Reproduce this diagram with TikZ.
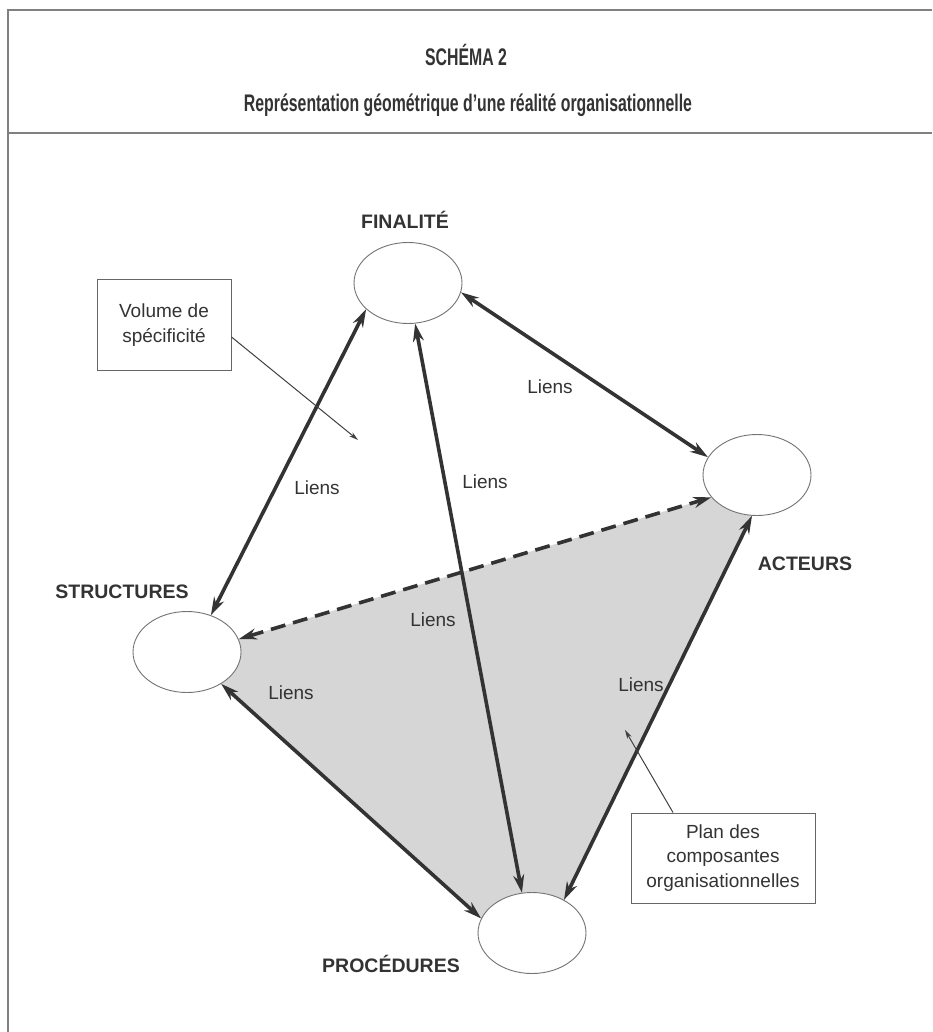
\documentclass[tikz,border=0pt]{standalone}
\usepackage{fontspec}
\setmainfont{Liberation Sans}
\newfontfamily\condfont[FakeStretch=0.66]{Liberation Sans}
\usepackage{tikz}
\usetikzlibrary{shapes.geometric,arrows.meta,backgrounds}

\begin{document}
\begin{tikzpicture}[x=1pt,y=-1pt]
\tikzstyle{every node}+=[inner sep=0pt, text=black!80, font=\fontsize{19}{24.5}\selectfont]
\tikzstyle{pole}=[ellipse, draw=black!55, line width=0.9pt, fill=white, minimum width=108pt, minimum height=81pt]
\tikzstyle{polename}=[font=\fontsize{19.5}{24}\selectfont\bfseries]
\tikzstyle{lien}=[black!80, line width=3.6pt, {Stealth[length=18pt,width=11pt]}-{Stealth[length=18pt,width=11pt]}]
\tikzstyle{note}=[draw=black!60, line width=1pt, align=center]
\tikzstyle{renvoi}=[black!75, line width=1pt, -{Stealth[length=9pt,width=5pt]}]
\useasboundingbox (0,0) rectangle (932,1032);
% cadre et titre
\draw [black!50, line width=2.4pt] (932,10) -- (8,10) -- (8,1032);
\draw [black!50, line width=2pt] (8,133) -- (932,133);
\node (titre) at (466,55) {\condfont\fontsize{24}{28}\selectfont\bfseries SCHÉMA 2};
\node (soustitre) at (468,105) {\condfont\fontsize{24}{28}\selectfont\bfseries Représentation géométrique d’une réalité organisationnelle};
% les quatre composantes
\node [pole] (fin) at (408,283) {};
\node [pole] (str) at (187,652) {};
\node [pole] (act) at (757,475) {};
\node [pole] (proc) at (532,933) {};
\node [polename] at (405,220) {FINALITÉ};
\node [polename] at (122,592) {STRUCTURES};
\node [polename] at (805,564) {ACTEURS};
\node [polename] at (391,964) {PROCÉDURES};
% plan des composantes
\begin{pgfonlayer}{background}
\fill [black!16] (str.14) -- (act.206) -- (act.263) -- (proc.46) -- (proc.104) -- (proc.164) -- (str.317) -- cycle;
\end{pgfonlayer}
% liens
\draw [lien] (fin.212) -- (str.57);
\draw [lien] (fin.280) -- (proc.104);
\draw [lien] (fin.350) -- (act.160);
\draw [lien, dash pattern=on 15pt off 8pt] (str.14) -- (act.206);
\draw [lien] (str.317) -- (proc.164);
\draw [lien] (act.263) -- (proc.46);
\node at (317,488) {Liens};
\node at (485,482) {Liens};
\node at (550,387) {Liens};
\node at (433,620) {Liens};
\node at (291,693) {Liens};
\node at (641,685) {Liens};
% encadres
\node [note, minimum width=134pt, minimum height=91pt] (vol) at (164,325) {Volume de\\spécificité};
\node [note, minimum width=184pt, minimum height=90pt] (plan) at (723,858) {Plan des\\composantes\\organisationnelles};
\coordinate (volpt) at (358,440);
\coordinate (planpt) at (625,730);
\draw [renvoi] ([yshift=-12pt]vol.east) -- (volpt);
\draw [renvoi] ([xshift=-50pt]plan.north) -- (planpt);
\end{tikzpicture}
\end{document}
